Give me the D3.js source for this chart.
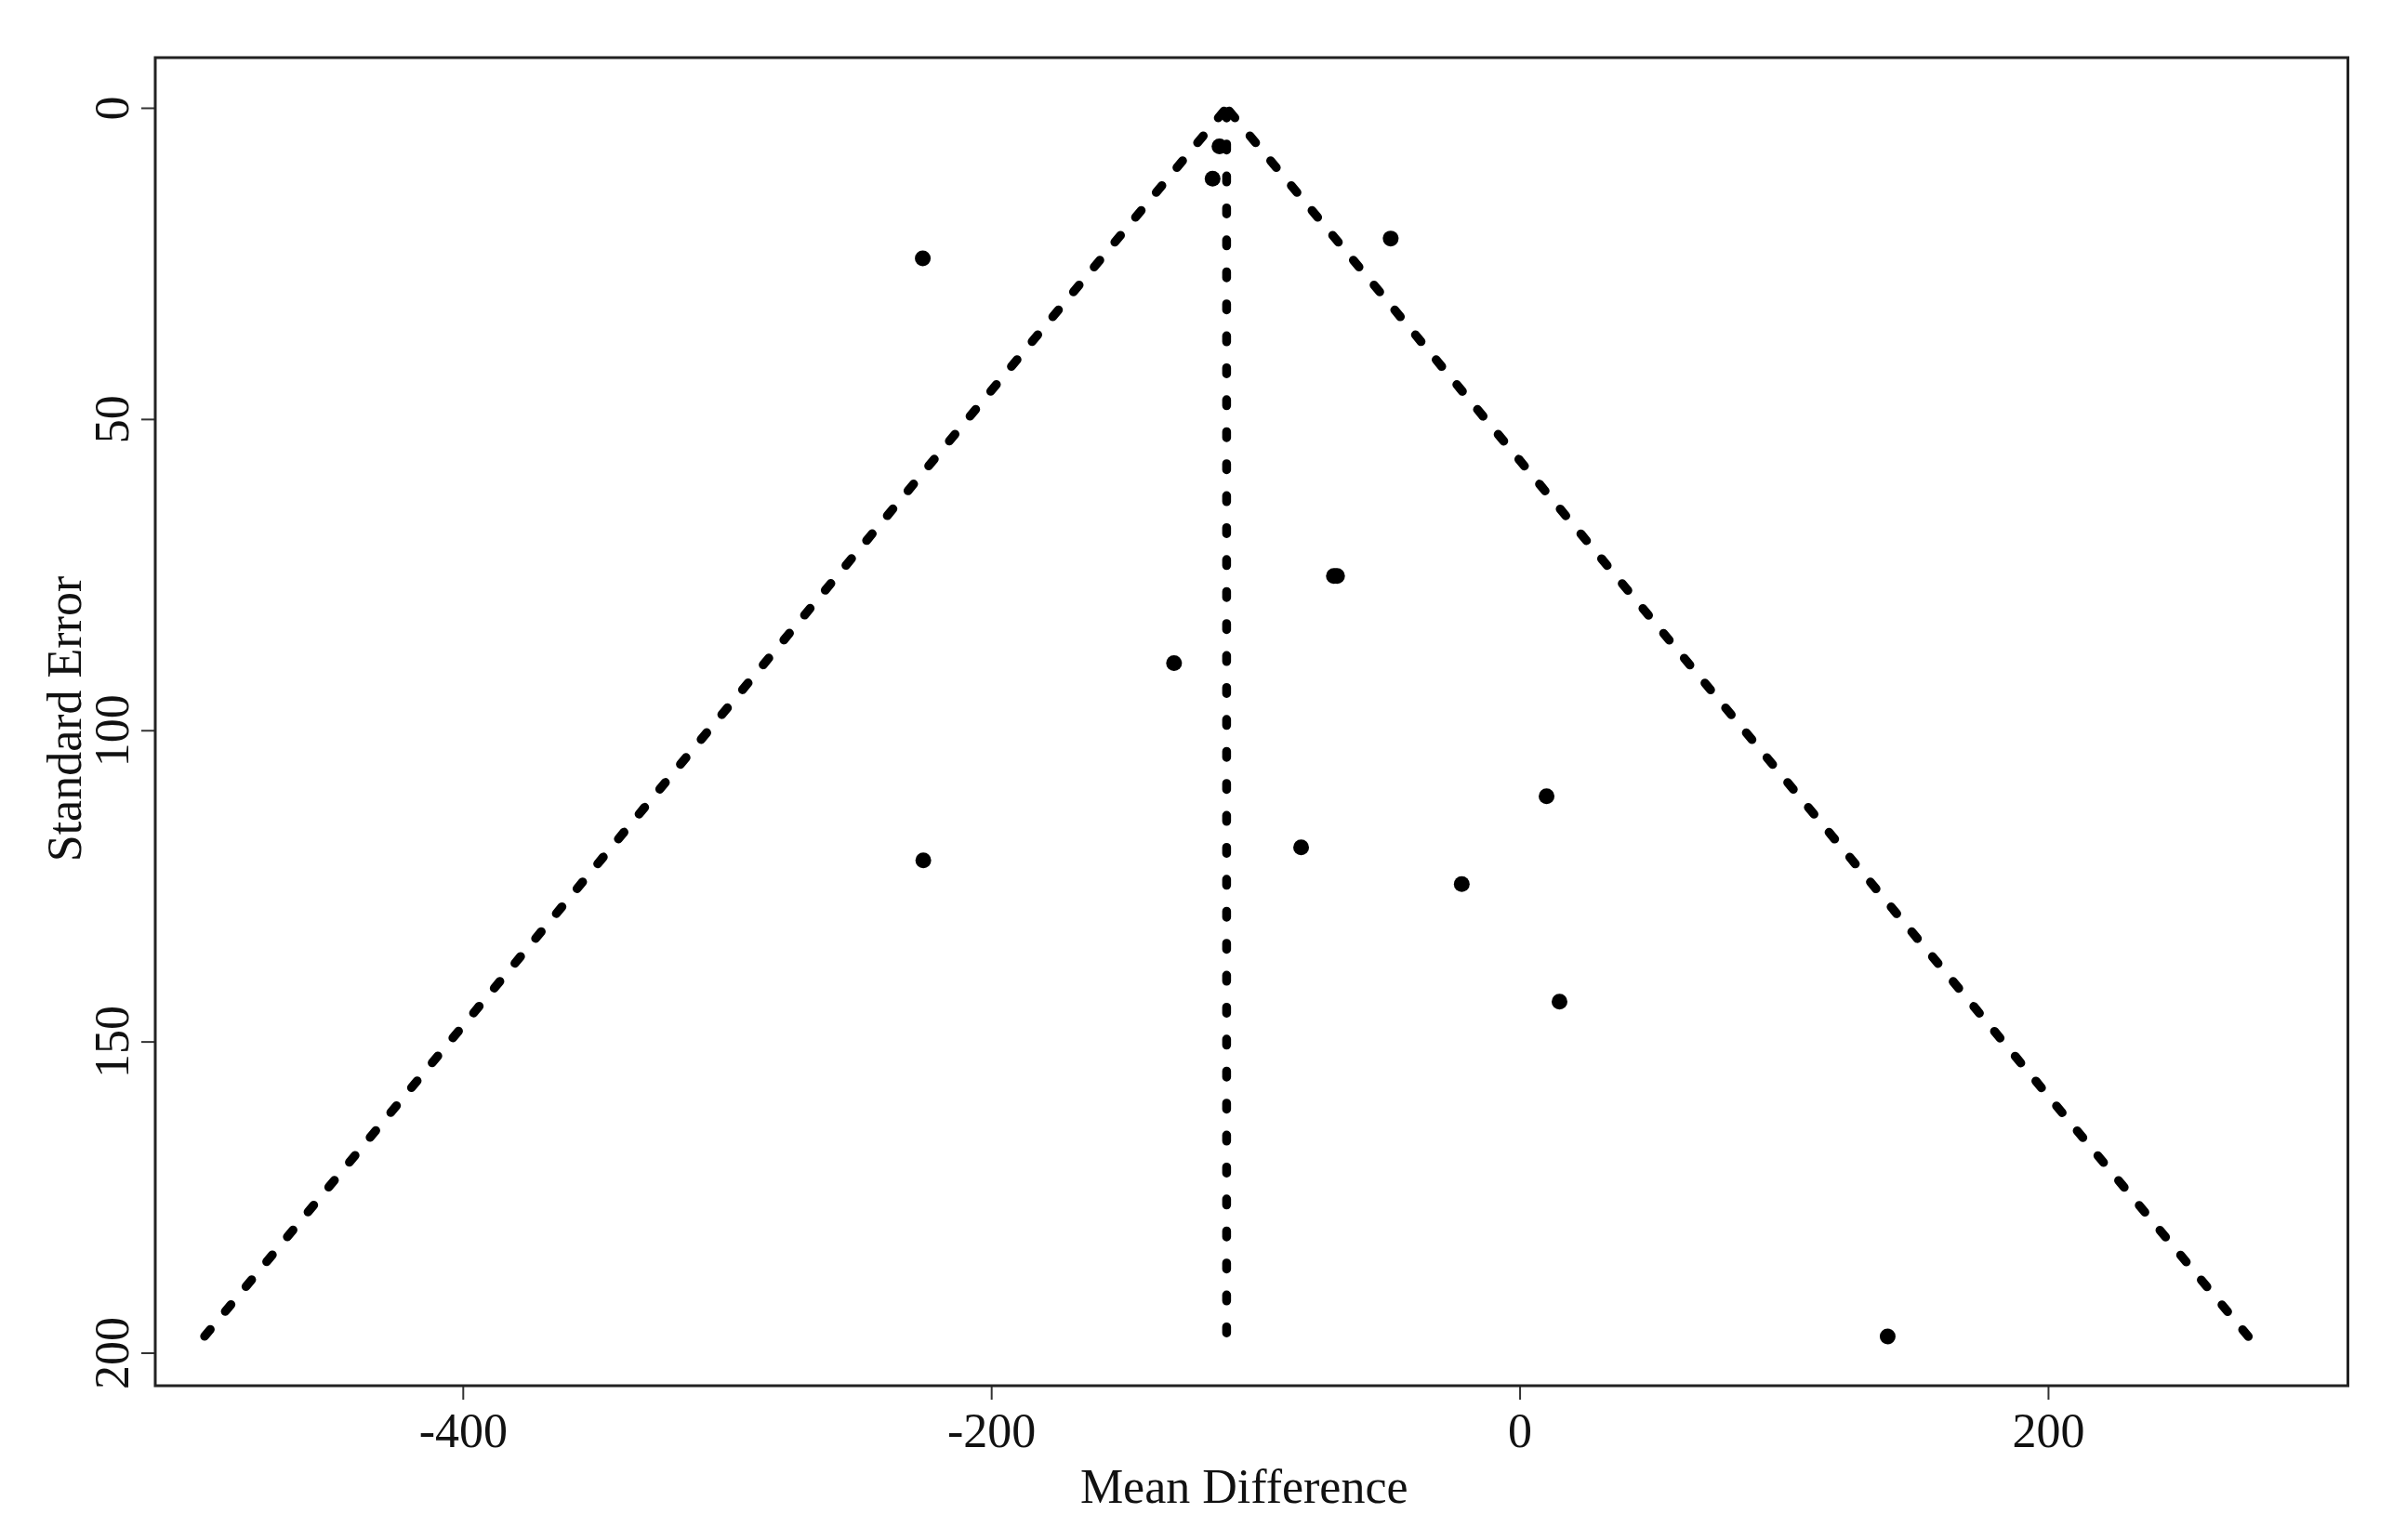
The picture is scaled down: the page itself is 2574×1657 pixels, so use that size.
<!DOCTYPE html>
<html>
<head>
<meta charset="utf-8">
<script src="https://cdn.jsdelivr.net/npm/d3@7"></script>
<style>
  html, body { margin: 0; padding: 0; background: #fff; }
  svg { display: block; }
  text { font-family: "Liberation Serif", "Times New Roman", serif; fill: #111; }
</style>
</head>
<body>
<script>
// ---- data ----
const meanDiff = [-225.9, -48.8, -113.6, -116.2, -70.3, -69.1, -130.8, 10.2, -82.7, -225.7, -21.9, 15.1, 139.3];
const stdErr   = [24.2, 21.0, 6.2, 11.4, 75.2, 75.2, 89.2, 110.6, 118.8, 120.9, 124.7, 143.6, 197.4];
const xTicks = [-400, -200, 0, 200];
const yTicks = [0, 50, 100, 150, 200];
// funnel lines (pooled estimate at the apex, limits at the bottom)
const funnelLeft   = [[-110.9, 0], [-498.0, 197.5]];
const funnelRight  = [[-110.9, 0], [276.0, 197.5]];
const funnelCenter = [[-110.9, 0], [-110.9, 197.5]];
const xTitle = "Mean Difference";
const yTitle = "Standard Error";

const W = 2574, H = 1657;
const L = 167, R = 2525.5, T = 62, B = 1491;

const svg = d3.select("body").append("svg").attr("width", W).attr("height", H);
svg.append("rect").attr("width", W).attr("height", H).attr("fill", "#fff");

const x = d3.scaleLinear().domain([-516.4, 313.5]).range([L, R]);
const y = d3.scaleLinear().domain([-8.06, 205.3]).range([T, B]);

// funnel dashed lines
const line = d3.line().x(d => x(d[0])).y(d => y(d[1]));
[[funnelLeft, "9.5,25.3"], [funnelRight, "9.5,25.3"], [funnelCenter, "6.5,27.9"]].forEach(([f, dash]) => {
  svg.append("path").attr("d", line(f))
    .attr("fill", "none").attr("stroke", "#000")
    .attr("stroke-width", 9.5).attr("stroke-dasharray", dash)
    .attr("stroke-dashoffset", -4.5)
    .attr("stroke-linecap", "round");
});

// points
svg.append("g").selectAll("circle").data(meanDiff.map((v, i) => [v, stdErr[i]]))
  .join("circle")
  .attr("cx", d => x(d[0])).attr("cy", d => y(d[1]))
  .attr("r", 8.5).attr("fill", "#000");

// x axis
const gx = svg.append("g").attr("transform", `translate(0,${B})`)
  .call(d3.axisBottom(x).tickValues(xTicks).tickSize(15).tickFormat(d3.format("d")));
gx.select(".domain").remove();
gx.selectAll(".tick line").attr("stroke", "#333").attr("stroke-width", 2);
gx.selectAll(".tick text").attr("y", 66).attr("dy", 0)
  .style("font-size", "52px").style("font-family", "'Liberation Serif', serif").attr("fill", "#111")
  .text(d => d < 0 ? "-" + Math.abs(d) : String(d));

// y axis
const gy = svg.append("g").attr("transform", `translate(${L},0)`)
  .call(d3.axisLeft(y).tickValues(yTicks).tickSize(15).tickFormat(d3.format("d")));
gy.select(".domain").remove();
gy.selectAll(".tick line").attr("stroke", "#333").attr("stroke-width", 2);
gy.selectAll(".tick text").attr("x", 0).attr("y", 0).attr("dy", 0)
  .attr("text-anchor", "middle")
  .attr("transform", "translate(-29,0) rotate(-90)")
  .style("font-size", "52px").style("font-family", "'Liberation Serif', serif").attr("fill", "#111");

// box
svg.append("rect").attr("x", L).attr("y", T).attr("width", R - L).attr("height", B - T)
  .attr("fill", "none").attr("stroke", "#222").attr("stroke-width", 3);

// titles
svg.append("text").attr("x", (L + R) / 2 - 8).attr("y", 1617)
  .attr("text-anchor", "middle").style("font-size", "52px").text(xTitle);
svg.append("text").attr("transform", `translate(87,${(T + B) / 2 - 3}) rotate(-90)`)
  .attr("text-anchor", "middle").style("font-size", "52px").text(yTitle);
</script>
</body>
</html>
